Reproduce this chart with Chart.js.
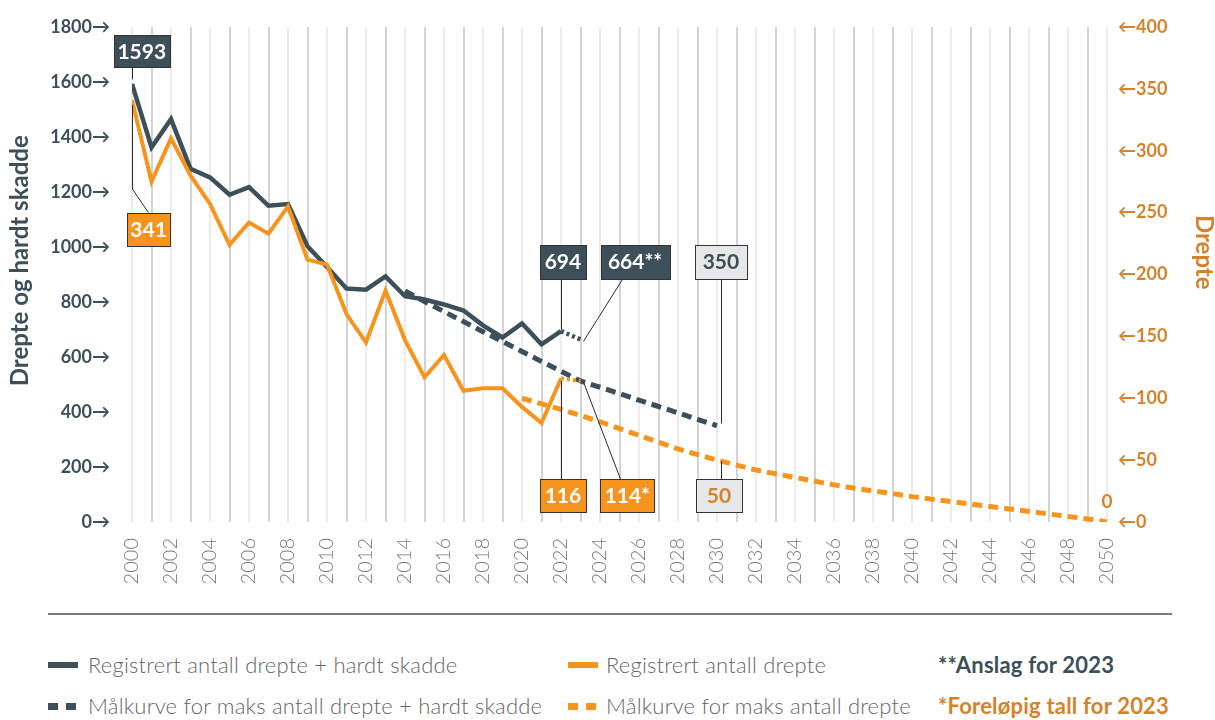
<!DOCTYPE html>
<html>
<head>
<meta charset="utf-8">
<script src="https://cdn.jsdelivr.net/npm/chart.js@4.4.0/dist/chart.umd.min.js"></script>
<style>
  body { margin: 0; background: #fff; width: 1215px; height: 720px; position: relative; overflow: hidden; font-family: Lato, sans-serif; }
  #wrap { position: absolute; left: 0; top: 0; width: 1215px; height: 600px; }
  .rule { position: absolute; left: 48px; top: 613px; width: 1124px; height: 2px; background: #7b7b7b; }
  .leg { position: absolute; font-size: 22px; font-weight: 300; color: #666; white-space: nowrap; line-height: 26px; letter-spacing: 0.2px; }
  .note { position: absolute; font-size: 22px; font-weight: 700; white-space: nowrap; line-height: 26px; letter-spacing: 0.2px; }
  .sw { position: absolute; height: 6px; }
  .dash { position: absolute; width: 10px; height: 7px; }
</style>
</head>
<body>
<div id="wrap"><canvas id="drepte" width="1215" height="600"></canvas></div>
<div class="rule"></div>

<div class="sw" style="left:48px;top:662px;width:30px;background:#3d4f58"></div>
<div class="leg" style="left:88px;top:652px">Registrert antall drepte + hardt skadde</div>
<div class="sw" style="left:568px;top:662px;width:30px;background:#f7941d"></div>
<div class="leg" style="left:606px;top:652px">Registrert antall drepte</div>
<div class="note" style="left:938px;top:652px;color:#3d4f58">**Anslag for 2023</div>

<div class="dash" style="left:48px;top:703px;background:#3d4f58"></div>
<div class="dash" style="left:66px;top:703px;background:#3d4f58"></div>
<div class="leg" style="left:88px;top:693px">Målkurve for maks antall drepte + hardt skadde</div>
<div class="dash" style="left:568px;top:703px;background:#f7941d"></div>
<div class="dash" style="left:586px;top:703px;background:#f7941d"></div>
<div class="leg" style="left:606px;top:693px">Målkurve for maks antall drepte</div>
<div class="note" style="left:938px;top:693px;color:#d4832b">*Foreløpig tall for 2023</div>

<script>
const DARK = '#3d4f58';
const ORANGE = '#f7941d';
const ORANGE_TXT = '#d4832b';

// registrerte tall 2000-2022, 2023 er anslag / foreløpig
const years = [2000, 2001, 2002, 2003, 2004, 2005, 2006, 2007, 2008, 2009, 2010, 2011,
               2012, 2013, 2014, 2015, 2016, 2017, 2018, 2019, 2020, 2021, 2022, 2023];
const drepteHardtSkadde = [1593, 1362, 1465, 1284, 1253, 1190, 1218, 1150, 1156, 1003, 927, 849,
                           845, 893, 821, 809, 791, 769, 715, 671, 722, 646, 694, 664];
const drepte = [341, 275, 310, 280, 257, 224, 242, 233, 255, 212, 208, 168,
                145, 187, 147, 117, 135, 106, 108, 108, 93, 80, 116, 114];

// målkurver
const maalAar1 = [2014, 2015, 2016, 2017, 2018, 2019, 2020, 2021, 2022, 2023, 2024, 2025, 2026, 2027, 2028, 2029, 2030];
const maalDrepteHardtSkadde = [840, 802, 765, 729, 692, 656, 620, 584, 548, 513, 490, 467, 443, 420, 397, 373, 350];
const maalAar2 = [2020, 2021, 2022, 2023, 2024, 2025, 2026, 2027, 2028, 2029, 2030,
                  2031, 2032, 2033, 2034, 2035, 2036, 2037, 2038, 2039, 2040,
                  2041, 2042, 2043, 2044, 2045, 2046, 2047, 2048, 2049, 2050];
const maalDrepte = [100, 95.5, 91, 86, 81, 75.5, 70, 64.5, 59, 54.5, 50,
                    46, 42, 39, 36, 33, 30, 27.5, 25, 23, 20.5,
                    18.5, 16.5, 14.5, 12.5, 10.5, 8.5, 6.5, 4.5, 2.5, 0];

// etiketter med bokser: x/y i dataverdier, axis = hvilken y-akse
const etiketter = [
  { text: '1593', x: 2000.5, y: 1713, axis: 'yL', w: 56, h: 32, fill: DARK, color: '#fff',
    lead: [[2000, 1658], [2000, 1610]] },
  { text: '341', x: 2000.85, y: 236.5, axis: 'yR', w: 43, h: 33, fill: ORANGE, color: '#fff',
    lead: [[2000, 337], [2000, 269], [2000.82, 250]] },
  { text: '694', x: 2022.1, y: 947, axis: 'yL', w: 46, h: 34, fill: DARK, color: '#fff',
    lead: [[2022, 882], [2022, 700]] },
  { text: '664**', x: 2025.8, y: 947, axis: 'yL', w: 69, h: 34, fill: DARK, color: '#fff',
    lead: [[2025.15, 882], [2023.15, 657]] },
  { text: '350', x: 2030.2, y: 947, axis: 'yL', w: 52, h: 34, fill: '#e6e7e8', color: DARK,
    lead: [[2030.2, 882], [2030.2, 358]] },
  { text: '116', x: 2022.1, y: 21.4, axis: 'yR', w: 46, h: 33, fill: ORANGE, color: '#fff',
    lead: [[2022, 34.7], [2022, 114]] },
  { text: '114*', x: 2025.4, y: 21.4, axis: 'yR', w: 54, h: 33, fill: ORANGE, color: '#fff',
    lead: [[2025.05, 34.7], [2023.13, 113]] },
  { text: '50', x: 2030.1, y: 21.4, axis: 'yR', w: 46, h: 33, fill: '#e6e7e8', color: ORANGE_TXT,
    lead: [[2030.2, 34.7], [2030.2, 49]] }
];

function rotertTekst(ctx, text, x, y, vinkel, farge) {
  ctx.save();
  ctx.translate(x, y);
  ctx.rotate(vinkel);
  ctx.fillStyle = farge;
  ctx.font = 'bold 24px Lato, sans-serif';
  ctx.textAlign = 'center';
  ctx.textBaseline = 'middle';
  ctx.fillText(text, 0, 0);
  ctx.restore();
}

const etikettPlugin = {
  id: 'etiketter',
  afterDatasetsDraw(chart) {
    const ctx = chart.ctx;
    const xs = chart.scales.x;
    ctx.save();
    etiketter.forEach(e => {
      const ys = chart.scales[e.axis];
      ctx.strokeStyle = '#2b2b2b';
      ctx.lineWidth = 1;
      ctx.beginPath();
      e.lead.forEach((p, i) => {
        const px = Math.round(xs.getPixelForValue(p[0])) + 0.5;
        const py = ys.getPixelForValue(p[1]);
        if (i === 0) ctx.moveTo(px, py); else ctx.lineTo(px, py);
      });
      ctx.stroke();

      const cx = xs.getPixelForValue(e.x);
      const cy = ys.getPixelForValue(e.y);
      const bx = Math.round(cx - e.w / 2) + 0.5;
      const by = Math.round(cy - e.h / 2) + 0.5;
      ctx.fillStyle = e.fill;
      ctx.fillRect(bx, by, e.w, e.h);
      ctx.strokeStyle = '#333';
      ctx.strokeRect(bx, by, e.w, e.h);
      ctx.fillStyle = e.color;
      ctx.font = 'bold 21px Lato, sans-serif';
      ctx.textAlign = 'center';
      ctx.textBaseline = 'middle';
      ctx.fillText(e.text, cx, cy + 1);
    });
    // null i 2050
    ctx.fillStyle = ORANGE_TXT;
    ctx.font = 'bold 19px Lato, sans-serif';
    ctx.textAlign = 'center';
    ctx.textBaseline = 'middle';
    ctx.fillText('0', xs.getPixelForValue(2050), chart.scales.yR.getPixelForValue(16));
    ctx.restore();

    // aksetitler
    rotertTekst(ctx, 'Drepte og hardt skadde', 20, chart.scales.yL.getPixelForValue(950), -Math.PI / 2, DARK);
    rotertTekst(ctx, 'Drepte', 1204, chart.scales.yR.getPixelForValue(218), Math.PI / 2, ORANGE_TXT);
  }
};

const tilPunkter = (xx, yy) => xx.map((x, i) => ({ x: x, y: yy[i] }));
const siste = ctx => ctx.p1DataIndex === years.length - 1 ? [3, 3] : undefined;

// fast bredde, og ingen ekstra luft over/under plottet
const fastBredde = w => s => {
  s.width = w;
  s.paddingTop = 0;
  s.paddingBottom = 0;
};

new Chart(document.getElementById('drepte').getContext('2d'), {
  type: 'line',
  data: {
    datasets: [
      {
        label: 'Registrert antall drepte',
        data: tilPunkter(years, drepte),
        yAxisID: 'yR',
        borderColor: ORANGE,
        borderWidth: 4,
        segment: { borderDash: siste },
        order: 0
      },
      {
        label: 'Registrert antall drepte + hardt skadde',
        data: tilPunkter(years, drepteHardtSkadde),
        yAxisID: 'yL',
        borderColor: DARK,
        borderWidth: 4.5,
        segment: { borderDash: siste },
        order: 1
      },
      {
        label: 'Målkurve for maks antall drepte',
        data: tilPunkter(maalAar2, maalDrepte),
        yAxisID: 'yR',
        borderColor: ORANGE,
        borderWidth: 5,
        borderDash: [10, 6],
        order: 2
      },
      {
        label: 'Målkurve for maks antall drepte + hardt skadde',
        data: tilPunkter(maalAar1, maalDrepteHardtSkadde),
        yAxisID: 'yL',
        borderColor: DARK,
        borderWidth: 5,
        borderDash: [10, 6],
        order: 3
      }
    ]
  },
  options: {
    responsive: false,
    animation: false,
    elements: { point: { radius: 0 }, line: { tension: 0, borderCapStyle: 'butt' } },
    layout: { padding: { top: 27, left: 0, right: 0, bottom: 0 } },
    plugins: { legend: { display: false }, tooltip: { enabled: false } },
    scales: {
      x: {
        type: 'linear',
        min: 2000,
        max: 2050,
        afterFit: s => { s.height = 78; s.paddingLeft = 0; s.paddingRight = 0; },
        border: { display: false },
        grid: {
          drawTicks: false,
          lineWidth: 2,
          color: c => (c.tick && c.tick.value % 2 === 1) ? '#d3d3d3' : '#ececec'
        },
        ticks: {
          stepSize: 1,
          autoSkip: false,
          maxRotation: 90,
          minRotation: 90,
          padding: 16,
          color: '#7a7a7a',
          font: { family: 'Lato', size: 20, weight: 300 },
          callback: v => v % 2 === 0 ? String(v) : ''
        }
      },
      yL: {
        position: 'left',
        min: 0,
        max: 1800,
        afterFit: fastBredde(132),
        border: { display: false },
        grid: { display: false, drawTicks: false },
        ticks: {
          stepSize: 200,
          padding: 22,
          color: DARK,
          font: { family: 'Lato', size: 18, weight: 'bold' },
          callback: v => v + '→'
        }
      },
      yR: {
        position: 'right',
        min: 0,
        max: 400,
        afterFit: fastBredde(108),
        border: { display: false },
        grid: { display: false, drawTicks: false },
        ticks: {
          stepSize: 50,
          padding: 11,
          color: ORANGE_TXT,
          font: { family: 'Lato', size: 18, weight: 'bold' },
          callback: v => '←' + v
        }
      }
    }
  },
  plugins: [etikettPlugin]
});
</script>
</body>
</html>
